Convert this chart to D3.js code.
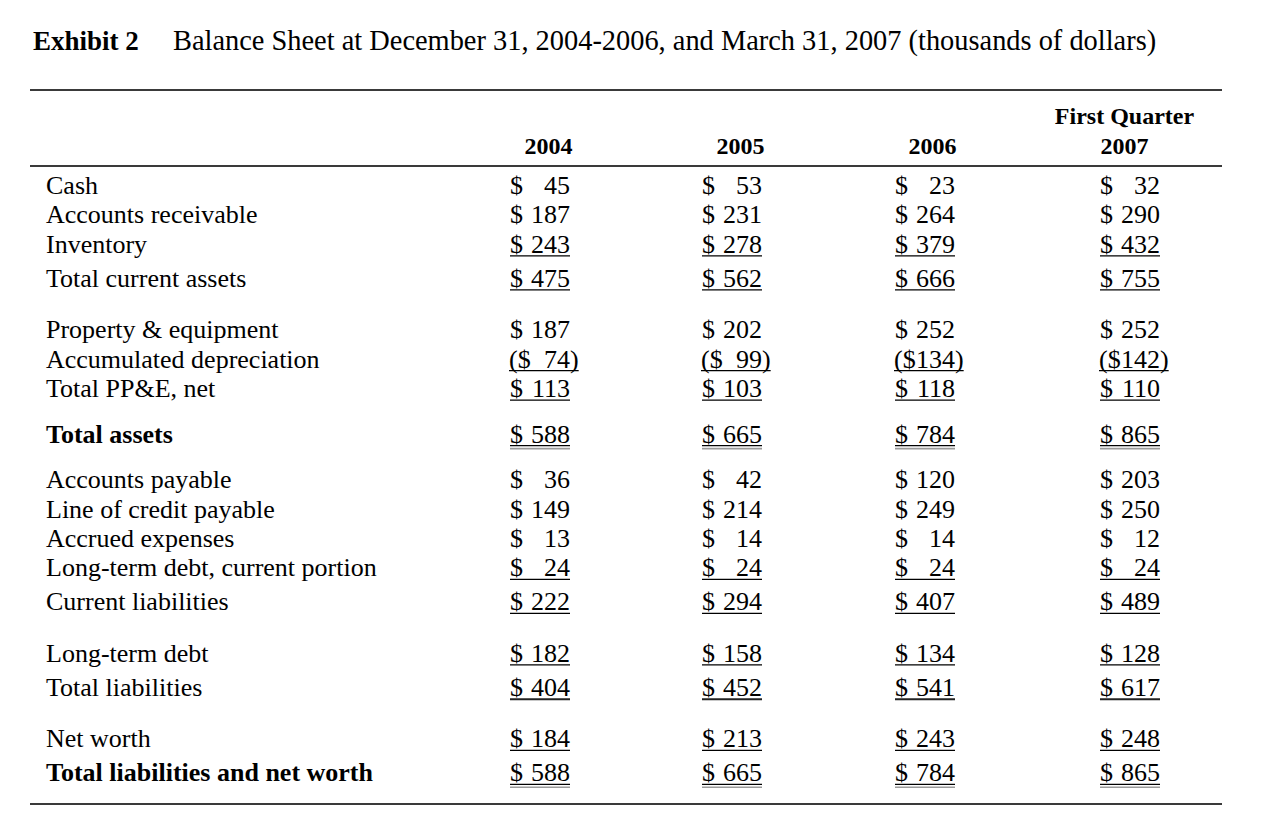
<!DOCTYPE html>
<html>
<head>
<meta charset="utf-8">
<script src="https://cdn.jsdelivr.net/npm/d3@7"></script>
<style>
  html, body { margin: 0; padding: 0; background: #fff; }
  svg { display: block; }
  text { font-family: "Liberation Serif", "Times New Roman", serif; fill: #000; }
</style>
</head>
<body>
<svg id="chart" width="1278" height="840"></svg>
<script>
// ---------------- DATA ----------------
const exhibitLabel = "Exhibit 2";
const titleText = "Balance Sheet at December 31, 2004-2006, and March 31, 2007 (thousands of dollars)";

const periods = ["2004", "2005", "2006", "Q1 2007"];
const headerLabels = [["2004"], ["2005"], ["2006"], ["First Quarter", "2007"]];

const rowLabels = [
  "Cash",
  "Accounts receivable",
  "Inventory",
  "Total current assets",
  "Property & equipment",
  "Accumulated depreciation",
  "Total PP&E, net",
  "Total assets",
  "Accounts payable",
  "Line of credit payable",
  "Accrued expenses",
  "Long-term debt, current portion",
  "Current liabilities",
  "Long-term debt",
  "Total liabilities",
  "Net worth",
  "Total liabilities and net worth"
];

const values2004 = [45, 187, 243, 475, 187, -74, 113, 588, 36, 149, 13, 24, 222, 182, 404, 184, 588];
const values2005 = [53, 231, 278, 562, 202, -99, 103, 665, 42, 214, 14, 24, 294, 158, 452, 213, 665];
const values2006 = [23, 264, 379, 666, 252, -134, 118, 784, 120, 249, 14, 24, 407, 134, 541, 243, 784];
const valuesQ12007 = [32, 290, 432, 755, 252, -142, 110, 865, 203, 250, 12, 24, 489, 128, 617, 248, 865];

const seriesValues = [values2004, values2005, values2006, valuesQ12007];

// ---------------- LAYOUT / STYLE (not data) ----------------
const ruleX0 = 30, ruleX1 = 1222;
const labelX = 46;
const bodySize = 26, headSize = 24;

// spacing type before each row
const gapBefore = ["", "row", "row", "sub", "sec", "row", "row", "tot", "tot", "row", "row", "row", "sub", "sec", "sub", "sec", "sub"];
const gapSize = { "": 0, row: 29.4, sub: 34, sec: 51.5, tot: 45.5 };
// underline style per row
const rowRule = ["", "", "single", "single", "", "single", "single", "double", "", "", "", "single", "single", "single", "heavy", "single", "double"];
const boldRows = new Set([7, 16]);

const firstBaseline = 194;
let acc = firstBaseline;
const rowBaselines = gapBefore.map(g => (acc += gapSize[g]));
const yRow = d3.scaleOrdinal().domain(d3.range(rowLabels.length)).range(rowBaselines);

// header centers: uniform spacing
const xHeader = d3.scalePoint().domain(periods).range([548.5, 1124.5]);
// value column right edges
const xValRight = d3.scaleOrdinal().domain(periods).range([570, 762, 955, 1160]);
const colWidth = 60;

const svg = d3.select("#chart");

// Title
svg.append("text")
  .attr("x", 33).attr("y", 50)
  .attr("font-size", 27).attr("font-weight", "bold")
  .text(exhibitLabel);
svg.append("text")
  .attr("x", 173).attr("y", 50)
  .attr("font-size", 28.4)
  .text(titleText);

// Rules
const ruleColor = "#3a3a3a";
[90, 166, 804].forEach(y => {
  svg.append("line")
    .attr("x1", ruleX0).attr("x2", ruleX1)
    .attr("y1", y).attr("y2", y)
    .attr("stroke", ruleColor).attr("stroke-width", 2);
});

// Headers
const headG = svg.append("g");
periods.forEach((p, i) => {
  const lines = headerLabels[i];
  lines.forEach((ln, j) => {
    headG.append("text")
      .attr("x", xHeader(p))
      .attr("y", 154 - (lines.length - 1 - j) * 30)
      .attr("text-anchor", "middle")
      .attr("font-size", headSize)
      .attr("font-weight", "bold")
      .text(ln);
  });
});

// Row labels
svg.append("g").selectAll("text")
  .data(rowLabels)
  .join("text")
  .attr("x", labelX)
  .attr("y", (d, i) => yRow(i))
  .attr("font-size", bodySize)
  .attr("font-weight", (d, i) => boldRows.has(i) ? "bold" : "normal")
  .text(d => d);

// Values
const cellG = svg.append("g");
periods.forEach((p, c) => {
  const xr = xValRight(p);
  const xl = xr - colWidth;
  seriesValues[c].forEach((v, r) => {
    const y = yRow(r);
    const neg = v < 0;
    const g = cellG.append("g");
    let startX = xl, endX = xr;
    if (neg) {
      const lp = g.append("text").attr("x", xl - 1).attr("y", y).attr("font-size", bodySize).text("(");
      const pw = lp.node().getComputedTextLength();
      g.append("text").attr("x", xl - 1 + pw).attr("y", y).attr("font-size", bodySize).text("$");
      const rp = g.append("text").attr("x", xr).attr("y", y).attr("font-size", bodySize).text(")");
      startX = xl - 1;
      endX = xr + rp.node().getComputedTextLength();
    } else {
      g.append("text").attr("x", xl).attr("y", y).attr("font-size", bodySize).text("$");
    }
    g.append("text")
      .attr("x", xr).attr("y", y)
      .attr("text-anchor", "end")
      .attr("font-size", bodySize)
      .text(Math.abs(v));

    const rule = rowRule[r];
    if (rule === "single") {
      g.append("line").attr("x1", startX).attr("x2", endX)
        .attr("y1", y + 3).attr("y2", y + 3)
        .attr("stroke", "#000").attr("stroke-width", 1.2);
    } else if (rule === "heavy") {
      g.append("line").attr("x1", startX).attr("x2", endX)
        .attr("y1", y + 3.5).attr("y2", y + 3.5)
        .attr("stroke", "#222").attr("stroke-width", 2);
    } else if (rule === "double") {
      g.append("line").attr("x1", startX).attr("x2", endX)
        .attr("y1", y + 3).attr("y2", y + 3)
        .attr("stroke", "#000").attr("stroke-width", 1.2);
      g.append("line").attr("x1", startX).attr("x2", endX)
        .attr("y1", y + 6).attr("y2", y + 6)
        .attr("stroke", "#9a9a9a").attr("stroke-width", 1.6);
    }
  });
});
</script>
</body>
</html>
